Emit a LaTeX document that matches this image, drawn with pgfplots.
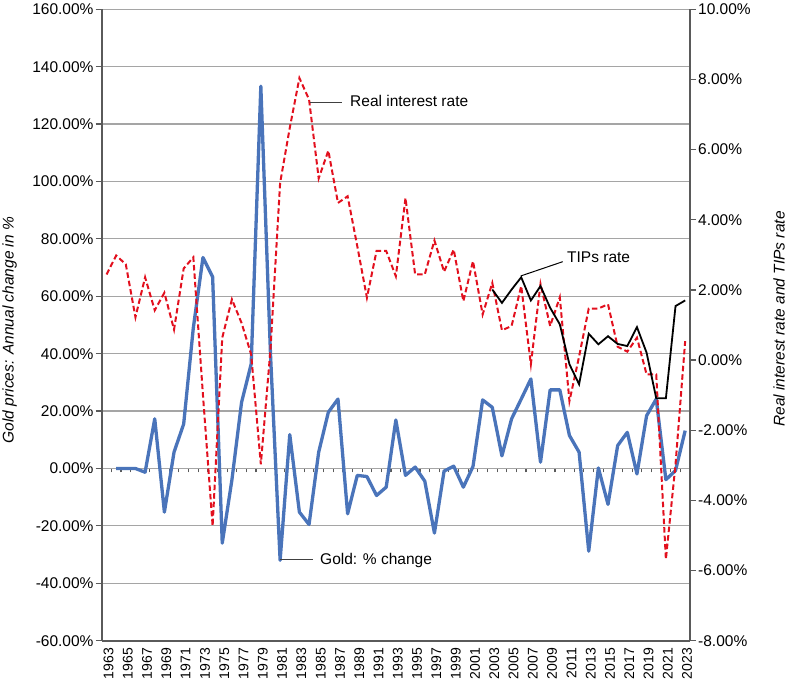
\documentclass[border=0pt]{standalone}
\usepackage{pgfplots}
\pgfplotsset{compat=1.18}
\usepackage{pgfplotstable}
\usepackage{fontspec}
\setmainfont{Liberation Sans}
\definecolor{goldblue}{RGB}{74,116,186}
\definecolor{realred}{RGB}{226,16,30}
\definecolor{gridgray}{RGB}{165,165,165}
\definecolor{axisgray}{RGB}{90,90,90}

\pgfplotstableread{
year gold
1964 0
1965 0
1966 0
1967 -1.3
1968 17.3
1969 -15.2
1970 5.7
1971 15.5
1972 49
1973 73.5
1974 66.8
1975 -26
1976 -4
1977 23
1978 36.4
1979 133.2
1980 40
1981 -32
1982 11.8
1983 -15.2
1984 -19.5
1985 5.7
1986 19.6
1987 24.2
1988 -15.8
1989 -2.4
1990 -2.8
1991 -9.4
1992 -6.5
1993 16.9
1994 -2.4
1995 0.5
1996 -4.4
1997 -22.5
1998 -0.9
1999 0.8
2000 -6.5
2001 0.7
2002 23.9
2003 21.3
2004 4.4
2005 17.3
2006 24.2
2007 31.2
2008 2.2
2009 27.4
2010 27.4
2011 11.5
2012 5.7
2013 -28.8
2014 0.2
2015 -12.5
2016 8.0
2017 12.6
2018 -1.9
2019 18.4
2020 24.2
2021 -3.9
2022 -0.7
2023 13.2
}\golddata

\pgfplotstableread{
year real
1963 2.44
1964 2.98
1965 2.73
1966 1.22
1967 2.36
1968 1.42
1969 1.92
1970 0.87
1971 2.61
1972 2.93
1973 -1.0
1974 -4.73
1975 0.64
1976 1.73
1977 1.06
1978 0.16
1979 -2.97
1980 0.3
1981 5.05
1982 6.62
1983 8.04
1984 7.43
1985 5.18
1986 5.97
1987 4.48
1988 4.67
1989 3.25
1990 1.78
1991 3.11
1992 3.11
1993 2.39
1994 4.62
1995 2.44
1996 2.44
1997 3.41
1998 2.52
1999 3.15
2000 1.68
2001 2.82
2002 1.30
2003 2.20
2004 0.85
2005 0.97
2006 2.11
2007 -0.12
2008 2.17
2009 0.97
2010 1.79
2011 -1.17
2012 0.1
2013 1.47
2014 1.47
2015 1.59
2016 0.38
2017 0.24
2018 0.64
2019 -0.41
2020 -0.41
2021 -5.68
2022 -2.97
2023 0.54
}\realdata

\pgfplotstableread{
year tips
2003 2.01
2004 1.63
2005 2.01
2006 2.36
2007 1.70
2008 2.11
2009 1.49
2010 1.02
2011 -0.12
2012 -0.69
2013 0.75
2014 0.45
2015 0.68
2016 0.46
2017 0.40
2018 0.94
2019 0.21
2020 -1.09
2021 -1.09
2022 1.54
2023 1.70
}\tipsdata

\begin{document}
\fontsize{15.5bp}{18bp}\selectfont
\begin{tikzpicture}
\useasboundingbox (0,0) rectangle (789bp,680bp);
\pgfplotsset{
  base/.style={scale only axis, width=588.3bp, height=631.4bp,
    at={(101.7bp,39.3bp)}, anchor=south west,
    xmin=1962.5, xmax=2023.5},
}
% zero line with category tick marks
\begin{axis}[base, ymin=-60, ymax=160,
  axis x line*=middle, hide y axis,
  xtick={1962.5,1963.5,1964.5,1965.5,1966.5,1967.5,1968.5,1969.5,1970.5,1971.5,1972.5,1973.5,1974.5,1975.5,1976.5,1977.5,1978.5,1979.5,1980.5,1981.5,1982.5,1983.5,1984.5,1985.5,1986.5,1987.5,1988.5,1989.5,1990.5,1991.5,1992.5,1993.5,1994.5,1995.5,1996.5,1997.5,1998.5,1999.5,2000.5,2001.5,2002.5,2003.5,2004.5,2005.5,2006.5,2007.5,2008.5,2009.5,2010.5,2011.5,2012.5,2013.5,2014.5,2015.5,2016.5,2017.5,2018.5,2019.5,2020.5,2021.5,2022.5,2023.5},
  xticklabels={},
  x axis line style={gridgray, line width=1.2bp},
  major tick length=4bp, tick align=center,
  xtick style={axisgray, line width=1.1bp, yshift=-2bp},
]
\end{axis}
% left axis: gold
\begin{axis}[base, ymin=-60, ymax=160,
  axis y line*=left, axis x line*=bottom,
  ytick={-60,-40,-20,0,20,40,60,80,100,120,140,160},
  yticklabels={-60.00\%,-40.00\%,-20.00\%,0.00\%,20.00\%,40.00\%,60.00\%,80.00\%,100.00\%,120.00\%,140.00\%,160.00\%},
  ymajorgrids, grid style={gridgray, line width=1.2bp},
  y axis line style={axisgray, line width=1.8bp},
  x axis line style={axisgray, line width=1.6bp},
  xtick={1963,1965,1967,1969,1971,1973,1975,1977,1979,1981,1983,1985,1987,1989,1991,1993,1995,1997,1999,2001,2003,2005,2007,2009,2011,2013,2015,2017,2019,2021,2023},
  xticklabels={1963,1965,1967,1969,1971,1973,1975,1977,1979,1981,1983,1985,1987,1989,1991,1993,1995,1997,1999,2001,2003,2005,2007,2009,2011,2013,2015,2017,2019,2021,2023},
  xticklabel style={rotate=90, anchor=east, inner sep=1bp, yshift=-2bp, font=\fontsize{14bp}{16bp}\selectfont},
  xtick style={draw=none},
  ytick style={axisgray, line width=1.2bp},
  major tick length=6bp, tick align=outside,
  yticklabel style={anchor=east, inner sep=2bp},
]
\addplot[goldblue, line width=3.3bp, line join=round] table[x=year, y=gold] {\golddata};
\end{axis}
% right axis: real rate and TIPS
\begin{axis}[base, ymin=-8, ymax=10,
  axis y line*=right, axis x line=none,
  ytick={-8,-6,-4,-2,0,2,4,6,8,10},
  yticklabels={-8.00\%,-6.00\%,-4.00\%,-2.00\%,0.00\%,2.00\%,4.00\%,6.00\%,8.00\%,10.00\%},
  y axis line style={axisgray, line width=1.8bp},
  ytick style={axisgray, line width=1.2bp},
  major tick length=6bp, tick align=outside,
  yticklabel style={anchor=west, inner sep=2bp},
]
\addplot[realred, line width=2bp, dash pattern=on 5.5bp off 3bp] table[x=year, y=real] {\realdata};
\addplot[black, line width=1.8bp] table[x=year, y=tips] {\tipsdata};
\end{axis}
% annotations
\draw[black!75, line width=1bp] (310bp,577bp) -- (342bp,577bp);
\node[anchor=base west, inner sep=0] at (350bp,573bp) {Real interest rate};
\draw[black, line width=1bp] (520.7bp,404bp) -- (562.7bp,418.3bp);
\node[anchor=base west, inner sep=0] at (567bp,417bp) {TIPs rate};
\draw[black!75, line width=1bp] (280bp,120bp) -- (313bp,120bp);
\node[anchor=base west, inner sep=0] at (320bp,115bp) {Gold: \% change};
\node[rotate=90, font=\itshape] at (9.5bp,350bp) {Gold prices: Annual change in \%};
\node[rotate=90, font=\itshape] at (779bp,361bp) {Real interest rate and TIPs rate};
\end{tikzpicture}
\end{document}
